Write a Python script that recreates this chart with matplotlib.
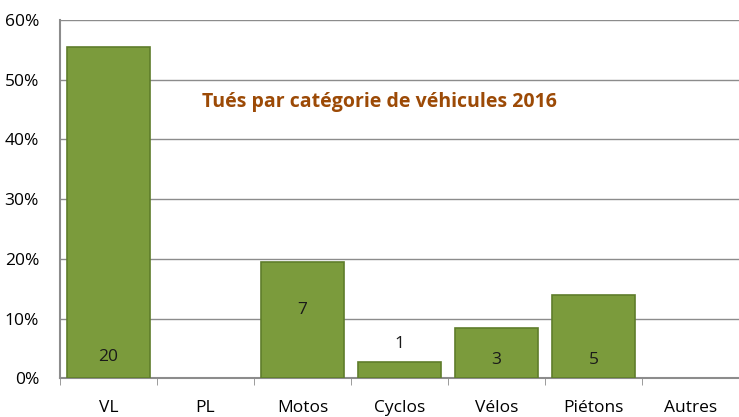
import numpy as np
import matplotlib.pyplot as plt
from matplotlib.ticker import PercentFormatter

plt.rcParams['font.family'] = ['Open Sans', 'DejaVu Sans']

categories = ['VL', 'PL', 'Motos', 'Cyclos', 'Vélos', 'Piétons', 'Autres']
counts = [20, 0, 7, 1, 3, 5, 0]
label_pos = [0.035, None, 0.115, 0.057, 0.03, 0.03, None]

total = sum(counts)
shares = [c / total for c in counts]
x = np.arange(len(categories))

fig = plt.figure(figsize=(7.39, 4.17), dpi=100)
ax = fig.add_axes([0.081, 0.093, 0.919, 0.859])

# zero-height bars are left out so no edge line shows
nz = [i for i, c in enumerate(counts) if c > 0]
ax.bar(x[nz], [shares[i] for i in nz], width=0.85, color='#7B9B3C',
       edgecolor='#5F7D2B', linewidth=1.2, zorder=3)

for xi, c, yp in zip(x, counts, label_pos):
    if yp is None:
        continue
    ax.text(xi, yp, str(c), ha='center', va='center', fontsize=12.5, color='#1a1a1a', zorder=4)

ax.set_xlim(-0.5, len(categories) - 0.5)
ax.set_ylim(0, 0.6)
ax.set_yticks(np.arange(0, 0.61, 0.1))
ax.yaxis.set_major_formatter(PercentFormatter(1.0, decimals=0))
ax.grid(axis='y', color='#8c8c8c', linewidth=1, zorder=0)

ax.set_xticks(x)
ax.set_xticklabels(categories, fontsize=12.5)
ax.set_xticks(np.arange(-0.5, len(categories)), minor=True)
ax.tick_params(axis='x', which='major', length=0, pad=16)
ax.tick_params(axis='x', which='minor', length=5, color='#8c8c8c')
ax.tick_params(axis='y', length=0, labelsize=12.5, pad=15)

for s in ['top', 'right']:
    ax.spines[s].set_visible(False)
ax.spines['left'].set_color('#8c8c8c')
ax.spines['bottom'].set_color('#8c8c8c')
ax.spines['left'].set_linewidth(1.5)
ax.spines['bottom'].set_linewidth(1.5)

ax.text(0.471, 0.77, 'Tués par catégorie de véhicules 2016', transform=ax.transAxes,
        ha='center', va='center', fontsize=14, fontweight='bold', color='#9C4A06')

fig.savefig('out.png', dpi=100)
